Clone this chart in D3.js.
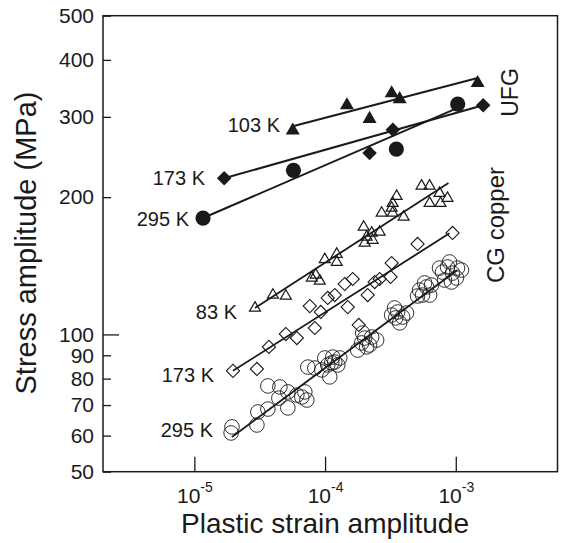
<!DOCTYPE html>
<html>
<head>
<meta charset="utf-8">
<script src="https://cdn.jsdelivr.net/npm/d3@7"></script>
<style>
  body { margin: 0; background: #fff; }
  svg text { font-family: "Liberation Sans", Arial, Helvetica, sans-serif; fill: #1a1a1a; }
</style>
</head>
<body>
<svg id="chart" width="561" height="543"></svg>
<script>
// ---- Axis ticks ----
const yTickValues = [50, 60, 70, 80, 90, 100, 200, 300, 400, 500];
const xTickExponents = [-5, -4, -3];

// ---- UFG copper (filled symbols) ----
const ufg103Strain = [5.66e-5, 1.47e-4, 2.19e-4, 3.23e-4, 3.72e-4, 1.47e-3];
const ufg103Stress = [280, 318, 297, 338, 328, 356];
const ufg103FitStrain = [5.66e-5, 1.47e-3];
const ufg103FitStress = [286, 365];

const ufg173Strain = [1.69e-5, 2.19e-4, 3.30e-4, 1.62e-3];
const ufg173Stress = [220, 250, 281, 318];
const ufg173FitStrain = [1.69e-5, 1.62e-3];
const ufg173FitStress = [220, 318];

const ufg295Strain = [1.165e-5, 5.73e-5, 3.51e-4, 1.035e-3];
const ufg295Stress = [180, 229, 255, 320];
const ufg295FitStrain = [1.165e-5, 1.035e-3];
const ufg295FitStress = [180, 314];

// ---- CG copper (open symbols) ----
const cg83Strain = [2.91e-5, 3.99e-5, 5.01e-5, 7.92e-5, 8.49e-5, 9.11e-5, 9.95e-5, 1.228e-4, 1.228e-4,
  1.974e-4, 2.01e-4, 2.08e-4, 2.273e-4, 2.31e-4, 2.616e-4, 2.71e-4, 3.23e-4, 3.287e-4, 3.526e-4,
  3.287e-4, 3.99e-4, 5.47e-4, 6.30e-4, 7.51e-4, 8.64e-4, 6.30e-4, 7.64e-4];
const cg83Stress = [114.3, 122, 121.4, 133, 135, 131, 146, 150, 144,
  172, 158.7, 163.6, 166.9, 161, 167.7, 184.6, 189.3, 194, 201,
  184.6, 181, 211.6, 211.6, 204, 199, 194, 194];
const cg83FitStrain = [2.91e-5, 8.79e-4];
const cg83FitStress = [114.3, 214.8];

const cg173Strain = [1.974e-5, 3.01e-5, 3.72e-5, 5.01e-5, 6.08e-5, 8.35e-5, 7.64e-5, 9.27e-5, 1.048e-4,
  1.186e-4, 1.414e-4, 1.627e-4, 1.49e-4, 1.81e-4, 2.118e-4, 2.395e-4, 2.616e-4, 3.17e-4, 3.23e-4,
  5.10e-4, 9.44e-4];
const cg173Stress = [83.2, 84, 93.9, 100.2, 98.2, 103.3, 115.4, 112, 120.2,
  122, 129, 132.3, 114.8, 104.9, 122, 130.3, 132.3, 133.7, 143.4,
  157.9, 166.9];
const cg173FitStrain = [1.974e-5, 8.95e-4];
const cg173FitStress = [83.2, 166.6];

const cg295Strain = [1.94e-5, 1.91e-5, 3.01e-5, 3.06e-5, 3.65e-5, 3.65e-5, 4.51e-5, 4.43e-5, 5.19e-5,
  5.19e-5, 6.08e-5, 6.64e-5, 7.00e-5, 7.25e-5, 7.38e-5, 8.35e-5, 9.95e-5, 1.125e-4, 1.145e-4,
  1.086e-4, 1.048e-4, 1.25e-4, 1.186e-4, 1.777e-4, 1.906e-4, 2.08e-4, 2.273e-4, 2.48e-4, 2.01e-4,
  3.23e-4, 3.59e-4, 3.92e-4, 3.72e-4, 3.40e-4, 5.28e-4, 5.97e-4, 6.30e-4, 5.57e-4, 5.77e-4,
  7.92e-4, 8.64e-4, 9.44e-4, 1.012e-3, 8.20e-4, 1.030e-3, 8.95e-4,
  2.19e-4, 1.94e-4, 3.47e-4, 4.20e-4, 6.52e-4, 5.10e-4, 1.105e-3, 7.51e-4, 9.27e-4, 1.295e-4, 9.44e-5];
const cg295Stress = [62.7, 60.8, 63.3, 67.6, 68.6, 77.1, 76.7, 72.5, 74.8,
  69.0, 73.6, 72.9, 74.8, 71.8, 84.8, 84.4, 88.8, 86.6, 89.2,
  80.7, 85.7, 85.7, 87.0, 92.4, 95.8, 93.9, 98.7, 97.2, 98.2,
  110.3, 112.0, 109.2, 106.0, 114.3, 125.1, 127.1, 122.0, 122.0, 129.7,
  137.0, 140.6, 136.3, 133.0, 131.6, 139.8, 144.2,
  94.8, 100.7, 108.7, 111.4, 128.3, 121.4, 138.4, 139.8, 130.3, 88.8, 83.6];
const cg295FitStrain = [1.94e-5, 1.03e-3];
const cg295FitStress = [59.6, 138.4];

// ---- Layout ----
const svg = d3.select("#chart");
const plot = { left: 103, top: 15.7, right: 557.5, bottom: 471.7 };
const ink = "#1a1a1a";

const x = d3.scaleLog().domain([2e-6, 6e-3]).range([plot.left, plot.right]);
const y = d3.scaleLog().domain([50, 500]).range([plot.bottom, plot.top]);

const zip = (a, b) => a.map((v, i) => [v, b[i]]);

// Y axis: short inward ticks, longer one at 100
const yAxis = svg.append("g")
  .attr("transform", `translate(${plot.left},0)`)
  .call(d3.axisLeft(y).tickValues(yTickValues).tickFormat(d3.format("d")).tickSize(-8).tickPadding(9));
yAxis.select(".domain").remove();
yAxis.selectAll(".tick line").attr("stroke", ink).attr("stroke-width", 1.3)
  .filter(d => d === 100).attr("x2", 16);
yAxis.selectAll(".tick text").attr("font-size", 21).attr("fill", ink)
  .style("font-family", '"Liberation Sans", Arial, sans-serif');

// X axis: decades with superscript exponents
const xAxis = svg.append("g")
  .attr("transform", `translate(0,${plot.bottom})`)
  .call(d3.axisBottom(x).tickValues(xTickExponents.map(e => Math.pow(10, e))).tickFormat(() => "").tickSize(-15));
xAxis.select(".domain").remove();
xAxis.selectAll(".tick line").attr("stroke", ink).attr("stroke-width", 1.3);
xAxis.selectAll(".tick").each(function (d) {
  const t = d3.select(this).append("text")
    .attr("y", 31.5).attr("text-anchor", "middle").attr("fill", ink)
    .style("font-family", '"Liberation Sans", Arial, sans-serif');
  t.append("tspan").attr("font-size", 21).text("10");
  t.append("tspan").attr("font-size", 14).attr("dy", -11).text(String(Math.round(Math.log10(d))));
});

// Frame
svg.append("rect")
  .attr("x", plot.left).attr("y", plot.top)
  .attr("width", plot.right - plot.left).attr("height", plot.bottom - plot.top)
  .attr("fill", "none").attr("stroke", ink).attr("stroke-width", 1.5);

// Axis titles
svg.append("text")
  .attr("x", x(1e-4)).attr("y", 533)
  .attr("text-anchor", "middle").attr("font-size", 28)
  .text("Plastic strain amplitude");
svg.append("text")
  .attr("transform", "translate(36,243) rotate(-90)")
  .attr("text-anchor", "middle").attr("font-size", 29)
  .text("Stress amplitude (MPa)");

// Fit lines
const line = d3.line().x(d => x(d[0])).y(d => y(d[1]));
const fits = [
  [ufg103FitStrain, ufg103FitStress, 2],
  [ufg173FitStrain, ufg173FitStress, 2],
  [ufg295FitStrain, ufg295FitStress, 2],
  [cg83FitStrain, cg83FitStress, 1.8],
  [cg173FitStrain, cg173FitStress, 1.8],
  [cg295FitStrain, cg295FitStress, 1.8]
];
fits.forEach(([sx, sy, w]) => {
  svg.append("path").datum(zip(sx, sy))
    .attr("d", line).attr("fill", "none").attr("stroke", ink).attr("stroke-width", w);
});

// Markers
function drawSeries(strain, stress, type, size, filled, rotate, strokeW) {
  const sym = d3.symbol().type(type).size(size);
  svg.append("g").selectAll("path")
    .data(zip(strain, stress))
    .join("path")
    .attr("transform", d => `translate(${x(d[0])},${y(d[1])})` + (rotate ? ` rotate(${rotate})` : ""))
    .attr("d", sym)
    .attr("fill", filled ? ink : "none")
    .attr("stroke", ink)
    .attr("stroke-width", strokeW);
}

drawSeries(cg295Strain, cg295Stress, d3.symbolCircle, Math.PI * 7.3 * 7.3, false, 0, 0.9);
drawSeries(cg173Strain, cg173Stress, d3.symbolSquare, 87, false, 45, 1.1);
drawSeries(cg83Strain, cg83Stress, d3.symbolTriangle, 52, false, 0, 1.2);

drawSeries(ufg295Strain, ufg295Stress, d3.symbolCircle, Math.PI * 7.6 * 7.6, true, 0, 0);
drawSeries(ufg173Strain, ufg173Stress, d3.symbolSquare, 106, true, 45, 0);
drawSeries(ufg103Strain, ufg103Stress, d3.symbolTriangle, 85, true, 0, 0);

// Series labels
const labels = [
  { text: "103 K", x: 280, y: 132 },
  { text: "173 K", x: 205, y: 185 },
  { text: "295 K", x: 189, y: 226 },
  { text: "83 K", x: 237, y: 319 },
  { text: "173 K", x: 214, y: 382 },
  { text: "295 K", x: 213, y: 437 }
];
svg.append("g").selectAll("text").data(labels).join("text")
  .attr("x", d => d.x).attr("y", d => d.y)
  .attr("text-anchor", "end").attr("font-size", 20)
  .text(d => d.text);

// Group labels
svg.append("text")
  .attr("transform", "translate(518,92.5) rotate(-90)")
  .attr("text-anchor", "middle").attr("font-size", 23)
  .text("UFG");
svg.append("text")
  .attr("transform", "translate(503.5,225) rotate(-90)")
  .attr("text-anchor", "middle").attr("font-size", 24)
  .text("CG copper");
</script>
</body>
</html>
